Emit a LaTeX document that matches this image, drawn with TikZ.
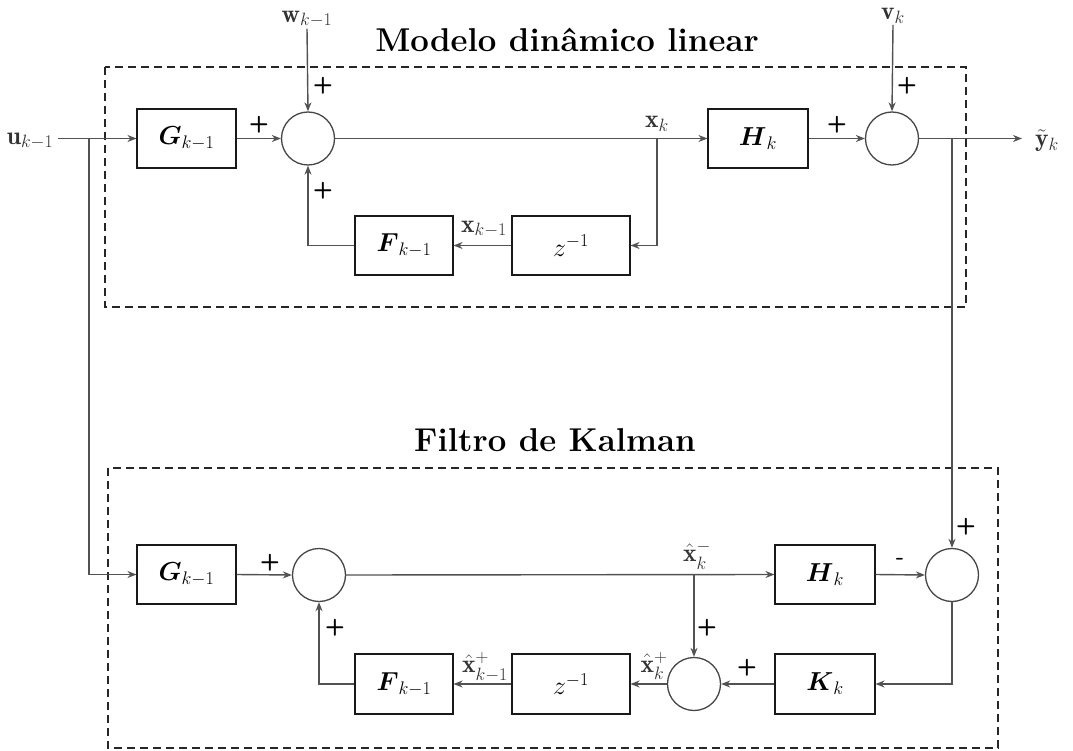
\RequirePackage{fix-cm}
\documentclass[tikz,border=0pt]{standalone}
\usepackage{amsmath,amssymb}
\usepackage{fontspec}
\usetikzlibrary{arrows.meta,calc}
\begin{document}
\begin{tikzpicture}[x=1pt,y=-1pt,
  sig/.style={draw=black!68, line width=1.4pt},
  arr/.style={sig, -{Stealth[length=9pt,width=7pt]}},
  block/.style={draw=black!90, line width=1.1pt, minimum width=99pt, minimum height=59pt, inner sep=0pt, font=\fontsize{26}{30}\selectfont},
  zblock/.style={block, minimum width=118pt},
  sumnode/.style={circle, draw=black!72, line width=1.3pt, minimum size=53pt, inner sep=0pt},
  lbl/.style={inner sep=1pt, text=black!80, font=\fontsize{25.5}{29}\selectfont},
  sgn/.style={inner sep=0pt, font=\sffamily\bfseries\fontsize{23}{27}\selectfont},
  dashbox/.style={draw=black!85, line width=2pt, dash pattern=on 8pt off 5pt},
  ttl/.style={font=\bfseries\fontsize{33}{38}\selectfont, inner sep=0pt, anchor=base}
]
\fill[white] (0,0) rectangle (1073,751);
\useasboundingbox (0,0) rectangle (1073,751);

% frames and titles
\draw[dashbox] (105,67) rectangle (966,307);
\draw[dashbox] (108,468) rectangle (998,748);
\node[ttl] (t1) at (567,52) {Modelo din\^amico linear};
\node[ttl] (t2) at (555,451) {Filtro de Kalman};

% top blocks
\node[block] (G1) at (186.5,138.5) {$\boldsymbol{G}_{k-1}$};
\node[sumnode] (S1) at (308,138.5) {};
\node[block, minimum width=100pt] (H1) at (758,138.5) {$\boldsymbol{H}_k$};
\node[sumnode] (S2) at (892,138.5) {};
\node[zblock] (Z1) at (571,245.5) {$z^{-1}$};
\node[block, minimum width=98pt] (F1) at (404,245.5) {$\boldsymbol{F}_{k-1}$};

% bottom blocks
\node[block] (G2) at (186.5,574.5) {$\boldsymbol{G}_{k-1}$};
\node[sumnode] (S3) at (319,575) {};
\node[block, minimum width=100pt] (H2) at (825,574.5) {$\boldsymbol{H}_k$};
\node[sumnode] (S4) at (952,575) {};
\node[block, minimum width=100pt, minimum height=60pt] (K) at (825,684) {$\boldsymbol{K}_k$};
\node[sumnode] (S5) at (694,684) {};
\node[zblock, minimum height=60pt] (Z2) at (571,684) {$z^{-1}$};
\node[block, minimum width=98pt, minimum height=60pt] (F2) at (404,684) {$\boldsymbol{F}_{k-1}$};

% signal labels and coordinates
\coordinate (uin) at (58,138.5);
\node[lbl, anchor=east] (u) at (54.5,141) {$\mathbf{u}_{k-1}$};
\coordinate (j1) at (89,138.5);
\node[lbl] (w) at (307,19) {$\mathbf{w}_{k-1}$};
\node[lbl] (v) at (893,16) {$\mathbf{v}_k$};
\coordinate (jx) at (657,138.5);
\node[lbl] (xk) at (657,124) {$\mathbf{x}_k$};
\node[lbl] (xk1) at (484,229) {$\mathbf{x}_{k-1}$};
\coordinate (yout) at (1022,138.5);
\node[lbl] (yk) at (1047,141) {$\tilde{\mathbf{y}}_k$};
\coordinate (jy) at (952,138.5);
\coordinate (jxm) at (694,575);
\node[lbl] (xm) at (697,555) {$\hat{\mathbf{x}}_k^-$};
\node[lbl] (xp) at (654,666) {$\hat{\mathbf{x}}_k^+$};
\node[lbl] (xp1) at (485,667) {$\hat{\mathbf{x}}_{k-1}^+$};

% top connectors
\draw[sig] (uin) -- (j1);
\draw[arr] (j1) -- (G1.west);
\draw[arr] (j1) |- (G2.west);
\draw[arr] (w.south) -- (S1.north);
\draw[arr] (G1.east) -- (S1.west);
\draw[arr] (S1.east) -- (H1.west);
\draw[arr] (jx) |- (Z1.east);
\draw[arr] (Z1.west) -- (F1.east);
\draw[arr] (F1.west) -| (S1.south);
\draw[arr] (H1.east) -- (S2.west);
\draw[arr] (v.south) -- (S2.north);
\draw[arr] (S2.east) -- (yout);
\draw[arr] (jy) -- (S4.north);

% bottom connectors
\draw[arr] (G2.east) -- (S3.west);
\draw[arr] (S3.east) -- (H2.west);
\draw[arr] (jxm) -- (S5.north);
\draw[arr] (H2.east) -- (S4.west);
\draw[arr] (S4.south) |- (K.east);
\draw[arr] (K.west) -- (S5.east);
\draw[arr] (S5.west) -- (Z2.east);
\draw[arr] (Z2.west) -- (F2.east);
\draw[arr] (F2.west) -| (S3.south);

% signs
\node[sgn] (p1) at (323,86) {+};
\node[sgn] (p2) at (259,125) {+};
\node[sgn] (p3) at (323,191) {+};
\node[sgn] (p4) at (837,125) {+};
\node[sgn] (p5) at (907,86) {+};
\node[sgn] (p6) at (270,563) {+};
\node[sgn] (p7) at (335,628) {+};
\node[sgn] (m1) at (900,561) {-};
\node[sgn] (p8) at (966,527) {+};
\node[sgn] (p9) at (707,628) {+};
\node[sgn] (p10) at (747,668) {+};
\end{tikzpicture}
\end{document}
